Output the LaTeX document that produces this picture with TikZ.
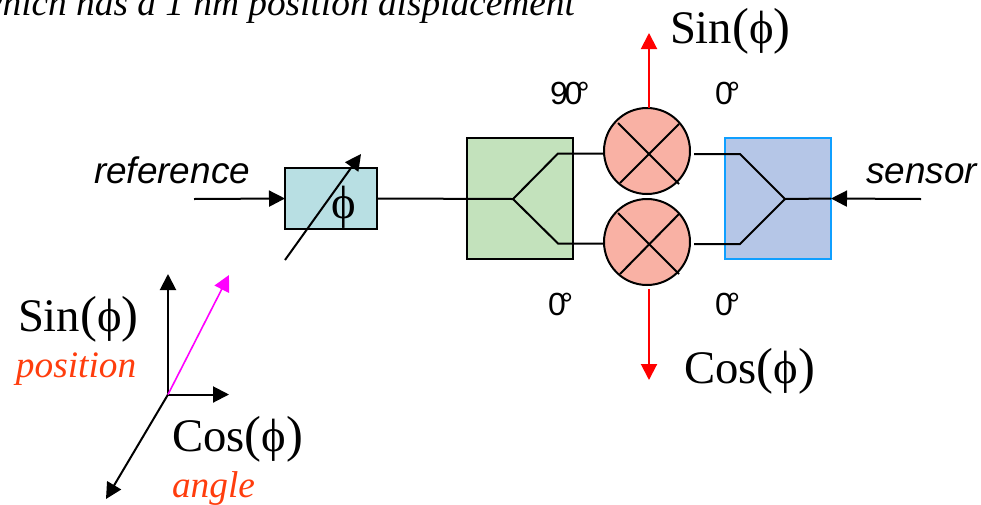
\documentclass[tikz,border=0pt]{standalone}
\usepackage{fontspec}
\setmainfont{Liberation Serif}
\setsansfont{Liberation Sans}
\usetikzlibrary{arrows.meta}
\definecolor{phasefill}{HTML}{B8DFE3}
\definecolor{greenfill}{HTML}{C3E2BC}
\definecolor{bluefill}{HTML}{B5C6E7}
\definecolor{blueedge}{HTML}{0F9FFF}
\definecolor{mixfill}{HTML}{F9B1A4}
\definecolor{redtext}{HTML}{FF3D0D}
\definecolor{vecmag}{HTML}{FF00FF}
\newcommand{\degtext}[1]{#1\kern-.17em°}
\newcommand{\lpar}{{\fontsize{38}{38}\selectfont(}}
\newcommand{\rpar}{{\fontsize{38}{38}\selectfont)}}
\tikzset{
  x=.75pt,y=-.75pt,
  wire/.style={line width=1.5pt,black},
  arr/.style={wire,-{Triangle[length=12pt,width=12pt]}},
  redarr/.style={line width=1.5pt,red,-{Triangle[length=12pt,width=12pt]}},
  magarr/.style={line width=1.2pt,vecmag,-{Triangle[length=12pt,width=12pt]}},
  boxnode/.style={draw,line width=1.5pt,inner sep=0pt,outer sep=0pt},
  mixer/.style={circle,draw,line width=1.5pt,fill=mixfill,minimum size=64.5pt,inner sep=0pt,outer sep=0pt},
  lbl/.style={anchor=base west,inner sep=0pt,outer sep=0pt},
  big/.style={lbl,font=\fontsize{35}{35}\selectfont},
  ital/.style={lbl,font=\fontsize{28}{28}\selectfont\itshape},
  arial/.style={lbl,font=\fontsize{27.7}{28}\selectfont\sffamily\itshape},
  degl/.style={lbl,font=\fontsize{24}{24}\selectfont\sffamily},
}
\begin{document}
\begin{tikzpicture}
\useasboundingbox (0,0) rectangle (981,504);
\clip (0,0) rectangle (981,504);
% caption
\node[lbl,anchor=base east,font=\fontsize{28}{28}\selectfont\itshape] (caption) at (575,15) {which has a 1 nm position displacement};
% boxes
\node[boxnode,fill=phasefill,minimum width=69pt,minimum height=45.75pt] (phase) at (331,198.5) {};
\node[boxnode,fill=greenfill,minimum width=79.5pt,minimum height=90.75pt] (split) at (520,198.5) {};
\node[boxnode,draw=blueedge,fill=bluefill,minimum width=79.5pt,minimum height=90.75pt] (comb) at (778,198.5) {};
\node[mixer] (mixa) at (647,151) {};
\node[mixer] (mixb) at (647,242) {};
% coordinates
\coordinate (refin) at (194,199);
\coordinate (sensin) at (921,199);
\coordinate (sj) at (513,199);
\coordinate (su) at (558,153.5);
\coordinate (sl) at (558,243.5);
\coordinate (cj) at (785,199);
\coordinate (cu) at (740,154);
\coordinate (cl) at (740,244);
\coordinate (cus) at (694,154);
\coordinate (cls) at (694,244);
\coordinate (tunea) at (285,260);
\coordinate (tuneb) at (361,154);
\coordinate (sinend) at (649,33);
\coordinate (cosend) at (649,380);
\coordinate (sinstart) at (649,108);
\coordinate (cosstart) at (649,289);
\coordinate (orig) at (168,394.5);
\coordinate (axy) at (168,274);
\coordinate (axx) at (229,394.5);
\coordinate (axz) at (106,499);
\coordinate (axm) at (229,275);
% mixer crosses
\draw[wire] (618,123) -- (679,184);
\draw[wire] (679,124) -- (620,183);
\draw[wire] (618,213) -- (679,274);
\draw[wire] (679,214) -- (620,274);
% connectors
\draw[arr] (refin) -- (phase.west);
\draw[arr] (sensin) -- (comb.east);
\draw[wire] (phase.east) -- (sj);
\draw[wire,line join=miter] (mixa.west |- su) -- (su) -- (sj) -- (sl) -- (mixb.west |- sl);
\draw[wire,line join=miter] (cus) -- (cu) -- (cj) -- (cl) -- (cls);
\draw[wire] (cj) -- (comb.east);
\draw[redarr] (sinstart) -- (sinend);
\draw[redarr] (cosstart) -- (cosend);
\draw[arr] (tunea) -- (tuneb);
% phase symbol
\node[inner sep=0pt,font=\fontsize{35}{35}\selectfont] (phi) at (343.5,207) {ϕ};
% axes
\draw[arr] (orig) -- (axy);
\draw[arr] (orig) -- (axx);
\draw[arr] (orig) -- (axz);
\draw[magarr] (orig) -- (axm);
% labels
\node[big] (sina) at (670,43) {Sin\lpar ϕ\rpar};
\node[big] (cosa) at (684,383) {Cos\lpar ϕ\rpar};
\node[big] (sinb) at (18,331) {Sin\lpar ϕ\rpar};
\node[big] (cosb) at (172,451) {Cos\lpar ϕ\rpar};
\node[ital,text=redtext] (posl) at (16,377) {position};
\node[ital,text=redtext] (angl) at (172,497) {angle};
\node[arial] (refl) at (94,183) {reference};
\node[arial] (sensl) at (866,183) {sensor};
\node[degl] (da) at (550,104) {9\kern-.1em\degtext{0}};
\node[degl] (db) at (715,104) {\degtext{0}};
\node[degl] (dc) at (548,315) {\degtext{0}};
\node[degl] (dd) at (715,315) {\degtext{0}};
\end{tikzpicture}
\end{document}
